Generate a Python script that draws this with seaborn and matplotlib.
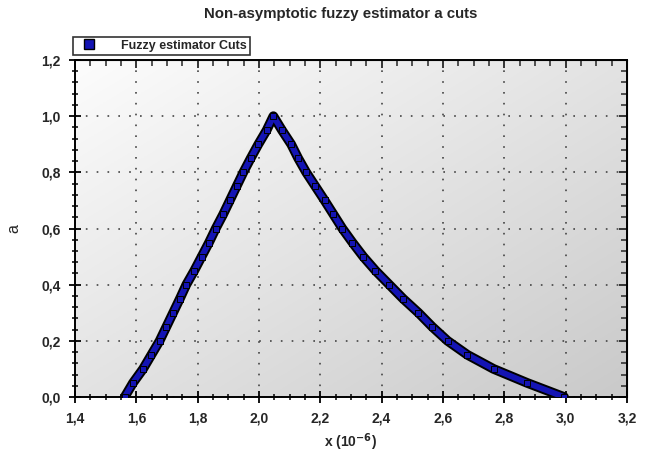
import numpy as np
import pandas as pd
import matplotlib
matplotlib.use("Agg")
import matplotlib.pyplot as plt
import seaborn as sns
from matplotlib.lines import Line2D
from matplotlib.ticker import MultipleLocator, FuncFormatter

# alpha levels and x values (in 1e-6)
left_a = [0.0, 0.05, 0.1, 0.15, 0.2, 0.25, 0.3, 0.35, 0.4, 0.45, 0.5,
          0.55, 0.6, 0.65, 0.7, 0.75, 0.8, 0.85, 0.9, 0.95, 1.0]
left_x = [1.562, 1.589, 1.622, 1.649, 1.676, 1.698, 1.720, 1.742, 1.763, 1.789, 1.813,
          1.837, 1.859, 1.883, 1.905, 1.927, 1.949, 1.973, 1.998, 2.025, 2.047]
right_a = [0.95, 0.9, 0.85, 0.8, 0.75, 0.7, 0.65, 0.6, 0.55, 0.5,
           0.45, 0.4, 0.35, 0.3, 0.25, 0.2, 0.15, 0.1, 0.05, 0.0]
right_x = [2.075, 2.105, 2.128, 2.154, 2.184, 2.214, 2.243, 2.272, 2.305, 2.340,
           2.380, 2.425, 2.470, 2.520, 2.565, 2.615, 2.680, 2.765, 2.875, 2.995]

df = pd.DataFrame({"x": left_x + right_x, "a": left_a + right_a})

sns.set_style("white")
plt.rcParams["font.family"] = ["Liberation Sans", "DejaVu Sans"]

fig = plt.figure(figsize=(6.51, 4.55), dpi=100)
ax = fig.add_axes([0.1152, 0.1275, 0.8478, 0.7406])

# gradient background: white top-left to light grey bottom-right
gx, gy = np.meshgrid(np.linspace(0, 1, 200), np.linspace(0, 1, 200))
shade = 0.99 - 0.2 * (gx + gy) / 2
rgb = np.dstack([shade, shade, shade])
ax.imshow(rgb, extent=[0, 1, 0, 1], transform=ax.transAxes,
          aspect="auto", zorder=0, origin="upper")

blue = "#1414b4"
sns.lineplot(data=df, x="x", y="a", sort=False, color="black", lw=7, ax=ax, zorder=3)
sns.lineplot(data=df, x="x", y="a", sort=False, color=blue, lw=4.2, ax=ax, zorder=4)
sns.scatterplot(data=df, x="x", y="a", marker="s", s=20, color=blue,
                edgecolor="black", linewidth=0.7, ax=ax, zorder=5)

ax.set_xlim(1.4, 3.2)
ax.set_ylim(0, 1.2)
ax.xaxis.set_major_locator(MultipleLocator(0.2))
ax.xaxis.set_minor_locator(MultipleLocator(0.05))
ax.yaxis.set_major_locator(MultipleLocator(0.2))
ax.yaxis.set_minor_locator(MultipleLocator(0.04))
fmt = FuncFormatter(lambda v, p: f"{v:.1f}".replace(".", ","))
ax.xaxis.set_major_formatter(fmt)
ax.yaxis.set_major_formatter(fmt)

ax.grid(True, which="major", color="#444444", lw=1.2, linestyle=(0, (1, 5.5)), zorder=1)
ax.set_axisbelow(True)

ax.tick_params(which="major", direction="inout", length=9, width=1.3, color="black",
               labelsize=10, pad=6)
ax.tick_params(which="minor", direction="inout", length=5, width=1.1, color="black")
ax.tick_params(which="both", bottom=True, left=True, top=False, right=False)
for lab in ax.get_xticklabels() + ax.get_yticklabels():
    lab.set_fontweight("bold")

for s in ax.spines.values():
    s.set_color("black")
    s.set_linewidth(1.4)

# inward ticks on top and right
top = ax.secondary_xaxis("top")
top.xaxis.set_major_locator(MultipleLocator(0.2))
top.xaxis.set_minor_locator(MultipleLocator(0.05))
top.tick_params(which="major", direction="in", length=6, width=1.3, labeltop=False)
top.tick_params(which="minor", direction="in", length=4, width=1.1)
right = ax.secondary_yaxis("right")
right.yaxis.set_major_locator(MultipleLocator(0.2))
right.yaxis.set_minor_locator(MultipleLocator(0.04))
right.tick_params(which="major", direction="in", length=6, width=1.3, labelright=False)
right.tick_params(which="minor", direction="in", length=4, width=1.1)

ax.set_xlabel("x (10$^{\\mathbf{-6}}$)", fontsize=10, fontweight="bold", labelpad=4)
ax.set_ylabel("a", fontsize=11.5, labelpad=14)
fig.suptitle("Non-asymptotic fuzzy estimator a cuts", x=0.523, y=0.985,
             fontsize=10.8, fontweight="bold")

handle = Line2D([], [], marker="s", linestyle="None", color=blue,
                markeredgecolor="black", markersize=7)
leg = ax.legend([handle], ["Fuzzy estimator Cuts"], loc="lower left",
                bbox_to_anchor=(-0.003, 1.015), borderaxespad=0, frameon=True,
                fancybox=False, edgecolor="black", prop={"weight": "bold", "size": 9},
                handletextpad=1.6, borderpad=0.25, handlelength=2.0)
leg.get_frame().set_linewidth(1.2)

fig.savefig("out.png", dpi=100)
